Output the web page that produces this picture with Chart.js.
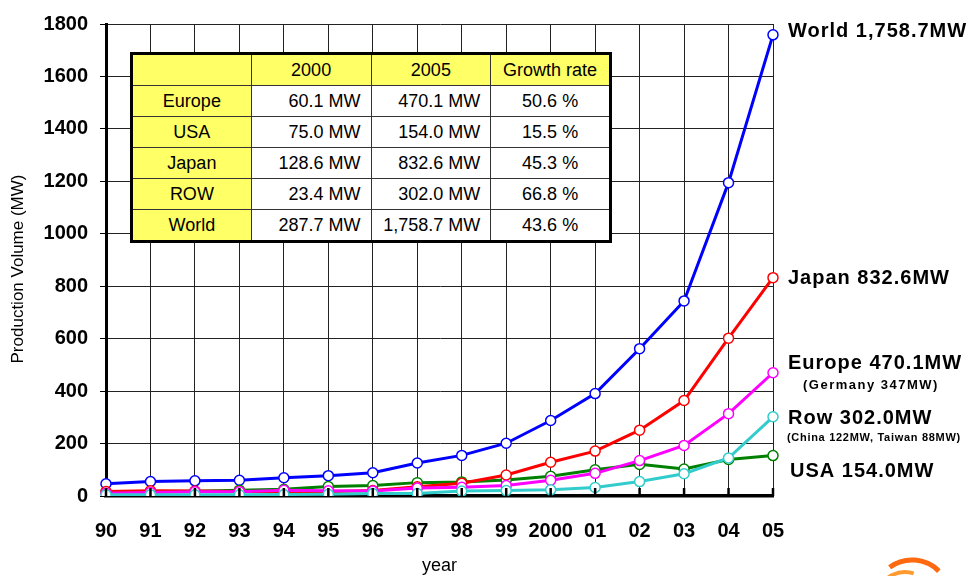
<!DOCTYPE html>
<html>
<head>
<meta charset="utf-8">
<script src="https://cdn.jsdelivr.net/npm/chart.js@4.4.0/dist/chart.umd.min.js"></script>
<style>
    body { margin: 0; background: #fff; }
    #wrap { position: relative; width: 970px; height: 576px; }
    #summary {
        position: absolute;
        left: 130px;
        top: 52px;
        width: 482px;
        height: 190px;
        border-collapse: collapse;
        border: 3px solid #000;
        font-family: "Liberation Sans", Arial, sans-serif;
        font-size: 18px;
        background: #fff;
        table-layout: fixed;
    }
    #summary td {
        border: 1px solid #333;
        height: 30px;
        padding: 0 10px 0 0;
        text-align: right;
        white-space: nowrap;
    }
    #summary td.yel { background: #ffff66; text-align: center; padding: 0; }
    #summary td.mid { text-align: center; padding: 0; }
</style>
</head>
<body>
<div id="wrap">
    <canvas id="pvChart"></canvas>
    <table id="summary"></table>
</div>
<script>
// Chart data
const years = ["90", "91", "92", "93", "94", "95", "96", "97", "98", "99", "2000", "01", "02", "03", "04", "05"];
const world = [46.5, 55.4, 57.9, 60.1, 69.4, 77.6, 88.6, 125.8, 154.9, 201.3, 287.7, 390.5, 561.8, 744, 1195, 1758.7];
const japan = [16.8, 19.9, 18.8, 16.7, 16.5, 16.4, 21.2, 35, 49, 80, 128.6, 171.2, 251, 364, 602, 832.6];
const usa = [14.8, 17.1, 18.1, 22.4, 25.6, 36, 40, 51, 53.7, 60.8, 75, 100.3, 120.6, 103, 139, 154];
const europe = [10.2, 13.4, 16.4, 16.6, 21.7, 20.1, 18.8, 30.4, 33.5, 40, 60.1, 86.4, 135, 193, 314, 470.1];
const row = [4.7, 5, 4.6, 4.4, 5.6, 6.4, 9.8, 9.4, 18.7, 20.5, 23.4, 32.6, 55, 85, 145, 302];

// Summary table
const tableHeader = ["", "2000", "2005", "Growth rate"];
const tableRegions = ["Europe", "USA", "Japan", "ROW", "World"];
const table2000 = ["60.1 MW", "75.0 MW", "128.6 MW", "23.4 MW", "287.7 MW"];
const table2005 = ["470.1 MW", "154.0 MW", "832.6 MW", "302.0 MW", "1,758.7 MW"];
const tableGrowth = ["50.6 %", "15.5 %", "45.3 %", "66.8 %", "43.6 %"];

// End-of-line labels
const endLabels = [
    { text: "World 1,758.7MW", x: 788, y: 31, size: 20, sp: 1 },
    { text: "Japan 832.6MW", x: 788, y: 278, size: 20, sp: 1 },
    { text: "Europe 470.1MW", x: 788, y: 363, size: 20, sp: 1 },
    { text: "(Germany 347MW)", x: 803, y: 385, size: 13, sp: 1.5 },
    { text: "Row 302.0MW", x: 788, y: 418, size: 20, sp: 1 },
    { text: "(China 122MW, Taiwan 88MW)", x: 787, y: 438, size: 11, sp: 0.7 },
    { text: "USA 154.0MW", x: 790, y: 471, size: 20, sp: 1 },
];

const FONT = '"Liberation Sans", Arial, sans-serif';

function buildTable() {
    const tbl = document.getElementById("summary");
    let html = "<tr>";
    tableHeader.forEach((h) => {
        html += `<td class="yel">${h}</td>`;
    });
    html += "</tr>";
    tableRegions.forEach((r, i) => {
        html += `<tr><td class="yel">${r}</td><td>${table2000[i]}</td><td>${table2005[i]}</td><td class="mid">${tableGrowth[i]}</td></tr>`;
    });
    tbl.innerHTML = html;
}

function series(label, data, color, order) {
    return {
        label: label,
        data: data,
        borderColor: color,
        backgroundColor: "#fff",
        pointBackgroundColor: "#fff",
        pointBorderColor: color,
        pointBorderWidth: 1.5,
        pointRadius: 5,
        borderWidth: 3,
        tension: 0,
        order: order,
    };
}

// Titles, annotations and the inner x ticks
const extrasPlugin = {
    id: "extras",
    afterDraw(chart) {
        const ctx = chart.ctx;
        const area = chart.chartArea;
        const xs = chart.scales.x;
        ctx.save();

        // inward tick marks on the x axis
        ctx.strokeStyle = "#000";
        ctx.lineWidth = 2.5;
        years.forEach((y, i) => {
            const px = xs.getPixelForValue(i);
            ctx.beginPath();
            ctx.moveTo(px, area.bottom);
            ctx.lineTo(px, area.bottom - 8);
            ctx.stroke();
        });

        ctx.fillStyle = "#000";
        ctx.font = "18px " + FONT;
        ctx.textAlign = "center";
        ctx.textBaseline = "middle";
        ctx.fillText("year", (area.left + area.right) / 2, 566);

        ctx.save();
        ctx.font = "17px " + FONT;
        ctx.translate(18, 269);
        ctx.rotate(-Math.PI / 2);
        ctx.fillText("Production Volume (MW)", 0, 0);
        ctx.restore();

        ctx.textAlign = "left";
        endLabels.forEach((l) => {
            ctx.font = "bold " + l.size + "px " + FONT;
            ctx.letterSpacing = l.sp + "px";
            ctx.fillText(l.text, l.x, l.y);
        });
        ctx.letterSpacing = "0px";

        // logo fragment
        ctx.strokeStyle = "#ff6a10";
        ctx.lineWidth = 5;
        ctx.beginPath();
        ctx.arc(912, 598, 38, Math.PI * 1.3, Math.PI * 1.75);
        ctx.stroke();
        ctx.strokeStyle = "#ff9a30";
        ctx.lineWidth = 4;
        ctx.beginPath();
        ctx.arc(905, 600, 28, Math.PI * 1.1, Math.PI * 1.6);
        ctx.stroke();
        ctx.restore();
    },
};

document.addEventListener("DOMContentLoaded", function () {
    buildTable();

    const ctx = document.getElementById("pvChart").getContext("2d");
    new Chart(ctx, {
        type: "line",
        data: {
            labels: years,
            datasets: [
                series("World", world, "#0000ff", 4),
                series("USA", usa, "#008000", 3),
                series("Japan", japan, "#ff0000", 2),
                series("Europe", europe, "#ff00ff", 1),
                series("ROW", row, "#33cccc", 0),
            ],
        },
        options: {
            responsive: true,
            maintainAspectRatio: false,
            animation: false,
            layout: {
                padding: { left: 0, top: 17, right: 197, bottom: 0 },
            },
            plugins: {
                legend: { display: false },
                tooltip: { enabled: false },
            },
            scales: {
                x: {
                    offset: false,
                    afterFit: function (scale) {
                        scale.height = 80;
                    },
                    grid: {
                        color: "#222",
                        lineWidth: 1,
                        drawTicks: false,
                    },
                    border: { color: "#000", width: 3.5 },
                    ticks: {
                        color: "#000",
                        padding: 23,
                        maxRotation: 0,
                        autoSkip: false,
                        font: { family: FONT, size: 20, weight: "bold" },
                    },
                },
                y: {
                    min: 0,
                    max: 1800,
                    afterFit: function (scale) {
                        scale.width = 106;
                    },
                    grid: {
                        color: "#222",
                        lineWidth: 1,
                        tickLength: 6,
                        tickColor: "#000",
                    },
                    border: { color: "#000", width: 3 },
                    ticks: {
                        stepSize: 200,
                        color: "#000",
                        padding: 12,
                        font: { family: FONT, size: 20, weight: "bold" },
                        callback: function (value) {
                            return String(value);
                        },
                    },
                },
            },
        },
        plugins: [extrasPlugin],
    });
});
</script>
</body>
</html>
